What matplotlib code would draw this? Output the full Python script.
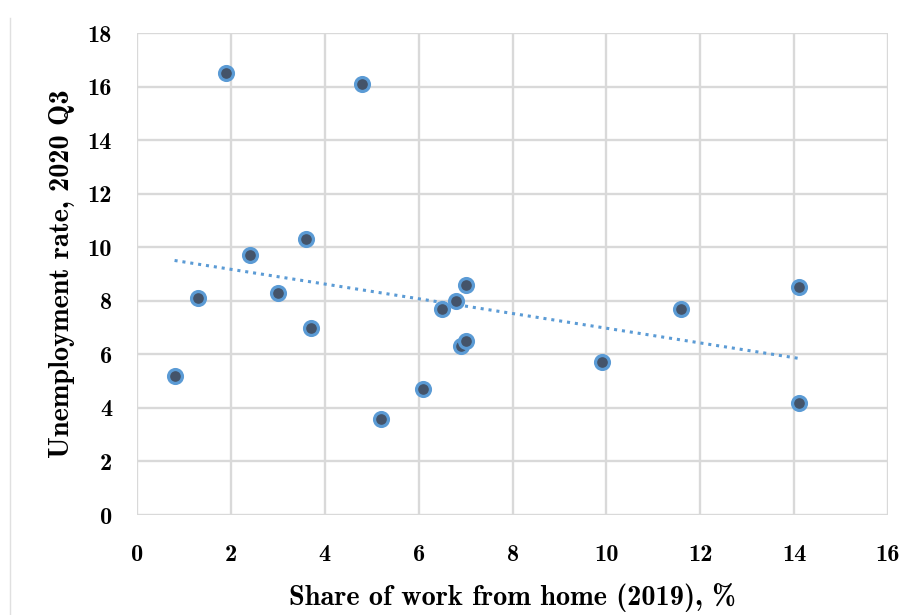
import numpy as np
import matplotlib
matplotlib.use("Agg")
import matplotlib.pyplot as plt
from matplotlib.lines import Line2D

# datos
wfh = [0.8, 1.3, 1.9, 2.4, 3.0, 3.6, 3.7, 4.8, 5.2, 6.1, 6.5, 6.8, 6.9, 7.0, 7.0, 9.9, 11.6, 14.1, 14.1]
unemp = [5.2, 8.1, 16.5, 9.7, 8.3, 10.3, 7.0, 16.1, 3.6, 4.7, 7.7, 8.0, 6.3, 8.6, 6.5, 5.7, 7.7, 8.5, 4.2]
xticks = list(range(0, 17, 2))
yticks = list(range(0, 19, 2))

plt.rcParams['font.family'] = ['cmb10', 'DejaVu Serif']
plt.rcParams['axes.unicode_minus'] = False

fig = plt.figure(figsize=(9.08, 6.15), dpi=100)
ax = fig.add_axes([0.1509, 0.1626, 0.8271, 0.7837])

grid_col = '#d9d9d9'
ax.set_xlim(0, 16)
ax.set_ylim(0, 18)
ax.set_xticks(xticks)
ax.set_yticks(yticks)
ax.grid(True, color=grid_col, linewidth=1.7)
ax.set_axisbelow(True)
for s in ax.spines.values():
    s.set_visible(False)
ax.tick_params(length=0, labelsize=17.5)
ax.tick_params(axis='x', pad=21)
ax.tick_params(axis='y', pad=18)

# linea de tendencia
m, b = np.polyfit(wfh, unemp, 1)
xs = np.array([min(wfh), max(wfh)])
ax.plot(xs, m * xs + b, color='#5b9bd5', linestyle=(0, (1, 1.6)), linewidth=2.2)

ax.scatter(wfh, unemp, s=100, color='#44546a', edgecolor='#5b9bd5', linewidth=2.3, zorder=3)

ax.set_xlabel('Share of work from home (2019), %', fontsize=20.4, labelpad=12)
ax.set_ylabel('Unemployment rate, 2020 Q3', fontsize=20.4, labelpad=9)

# borde de la imagen
fig.add_artist(Line2D([0.011, 0.011], [0, 0.97], color='#e0e0e0', linewidth=1, transform=fig.transFigure))

fig.savefig('out.png', dpi=100)
